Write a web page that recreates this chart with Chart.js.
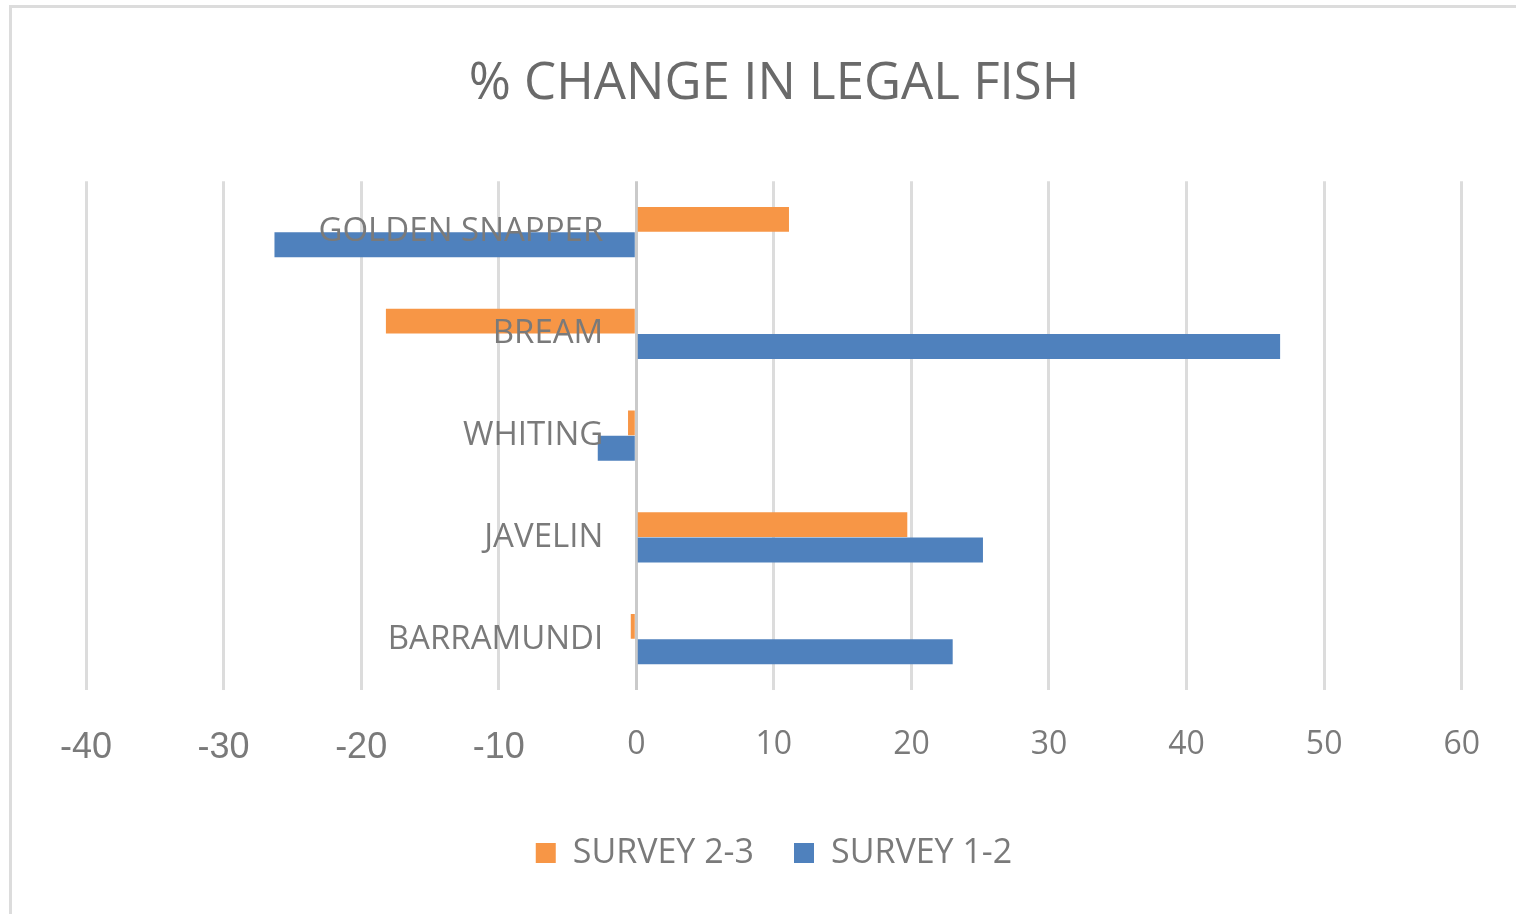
<!DOCTYPE html>
<html>
<head>
<meta charset="utf-8">
<script src="https://cdn.jsdelivr.net/npm/chart.js@4"></script>
<style>
  html, body { margin: 0; padding: 0; background: #fff; overflow: hidden; }
  #frame { position: absolute; left: 9px; top: 5px; width: 1600px; height: 1000px;
           border-left: 3px solid #dcdcdc; border-top: 3px solid #dcdcdc; }
  #wrap { position: absolute; left: 0; top: 0; width: 1516px; height: 914px; }
</style>
</head>
<body>
<div id="frame"></div>
<div id="wrap"><canvas id="fishChart"></canvas></div>
<script>
let fishNames = ["GOLDEN SNAPPER", "BREAM", "WHITING", "JAVELIN", "BARRAMUNDI"];
let survey23 = [11.1, -18.2, -0.6, 19.7, -0.4];
let survey12 = [-26.3, 46.8, -2.8, 25.2, 23.0];
let xMin = -40;
let xMax = 60;
let xStep = 10;

let grey = "#7a7a7a";

let ctx = document.getElementById("fishChart").getContext("2d");

// category names sit just left of the zero line, like the original
let labelAnchor = -2.4;

let chart = new Chart(ctx, {
    type: "bar",
    data: {
        labels: fishNames,
        datasets: [
            {
                label: "SURVEY 2-3",
                data: survey23,
                backgroundColor: "#F79646",
                borderWidth: 0,
                barPercentage: 0.98,
                categoryPercentage: 0.5
            },
            {
                label: "SURVEY 1-2",
                data: survey12,
                backgroundColor: "#4F81BD",
                borderWidth: 0,
                barPercentage: 0.98,
                categoryPercentage: 0.5
            }
        ]
    },
    options: {
        indexAxis: "y",
        responsive: true,
        maintainAspectRatio: false,
        animation: false,
        layout: {
            padding: { left: 86, right: 54, top: 0, bottom: 34 }
        },
        plugins: {
            title: {
                display: true,
                text: "% CHANGE IN LEGAL FISH",
                color: "#6a6a6a",
                font: { family: "Open Sans", size: 51, weight: "normal" },
                padding: { top: 54, bottom: 66 }
            },
            legend: {
                position: "bottom",
                labels: {
                    color: grey,
                    font: { family: "Open Sans", size: 34 },
                    boxWidth: 20,
                    boxHeight: 20,
                    padding: 40
                }
            },
            tooltip: { enabled: false }
        },
        scales: {
            x: {
                min: xMin,
                max: xMax,
                ticks: {
                    stepSize: xStep,
                    padding: 36,
                    color: grey,
                    font: function(c) {
                        if (c.tick && c.tick.value < 0) {
                            return { family: "Liberation Sans", size: 36 };
                        }
                        return { family: "Open Sans", size: 32 };
                    }
                },
                grid: {
                    color: function(c) {
                        return c.tick && c.tick.value === 0 ? "#cacaca" : "#dcdcdc";
                    },
                    lineWidth: 3,
                    drawTicks: false
                },
                border: { display: false },
                afterFit: function(scale) {
                    scale.height = 106;
                }
            },
            y: {
                position: { x: labelAnchor },
                ticks: {
                    color: grey,
                    z: 1,
                    font: { family: "Open Sans", size: 33 }
                },
                grid: { display: false, drawTicks: false },
                border: { display: false }
            }
        }
    }
});
</script>
</body>
</html>
